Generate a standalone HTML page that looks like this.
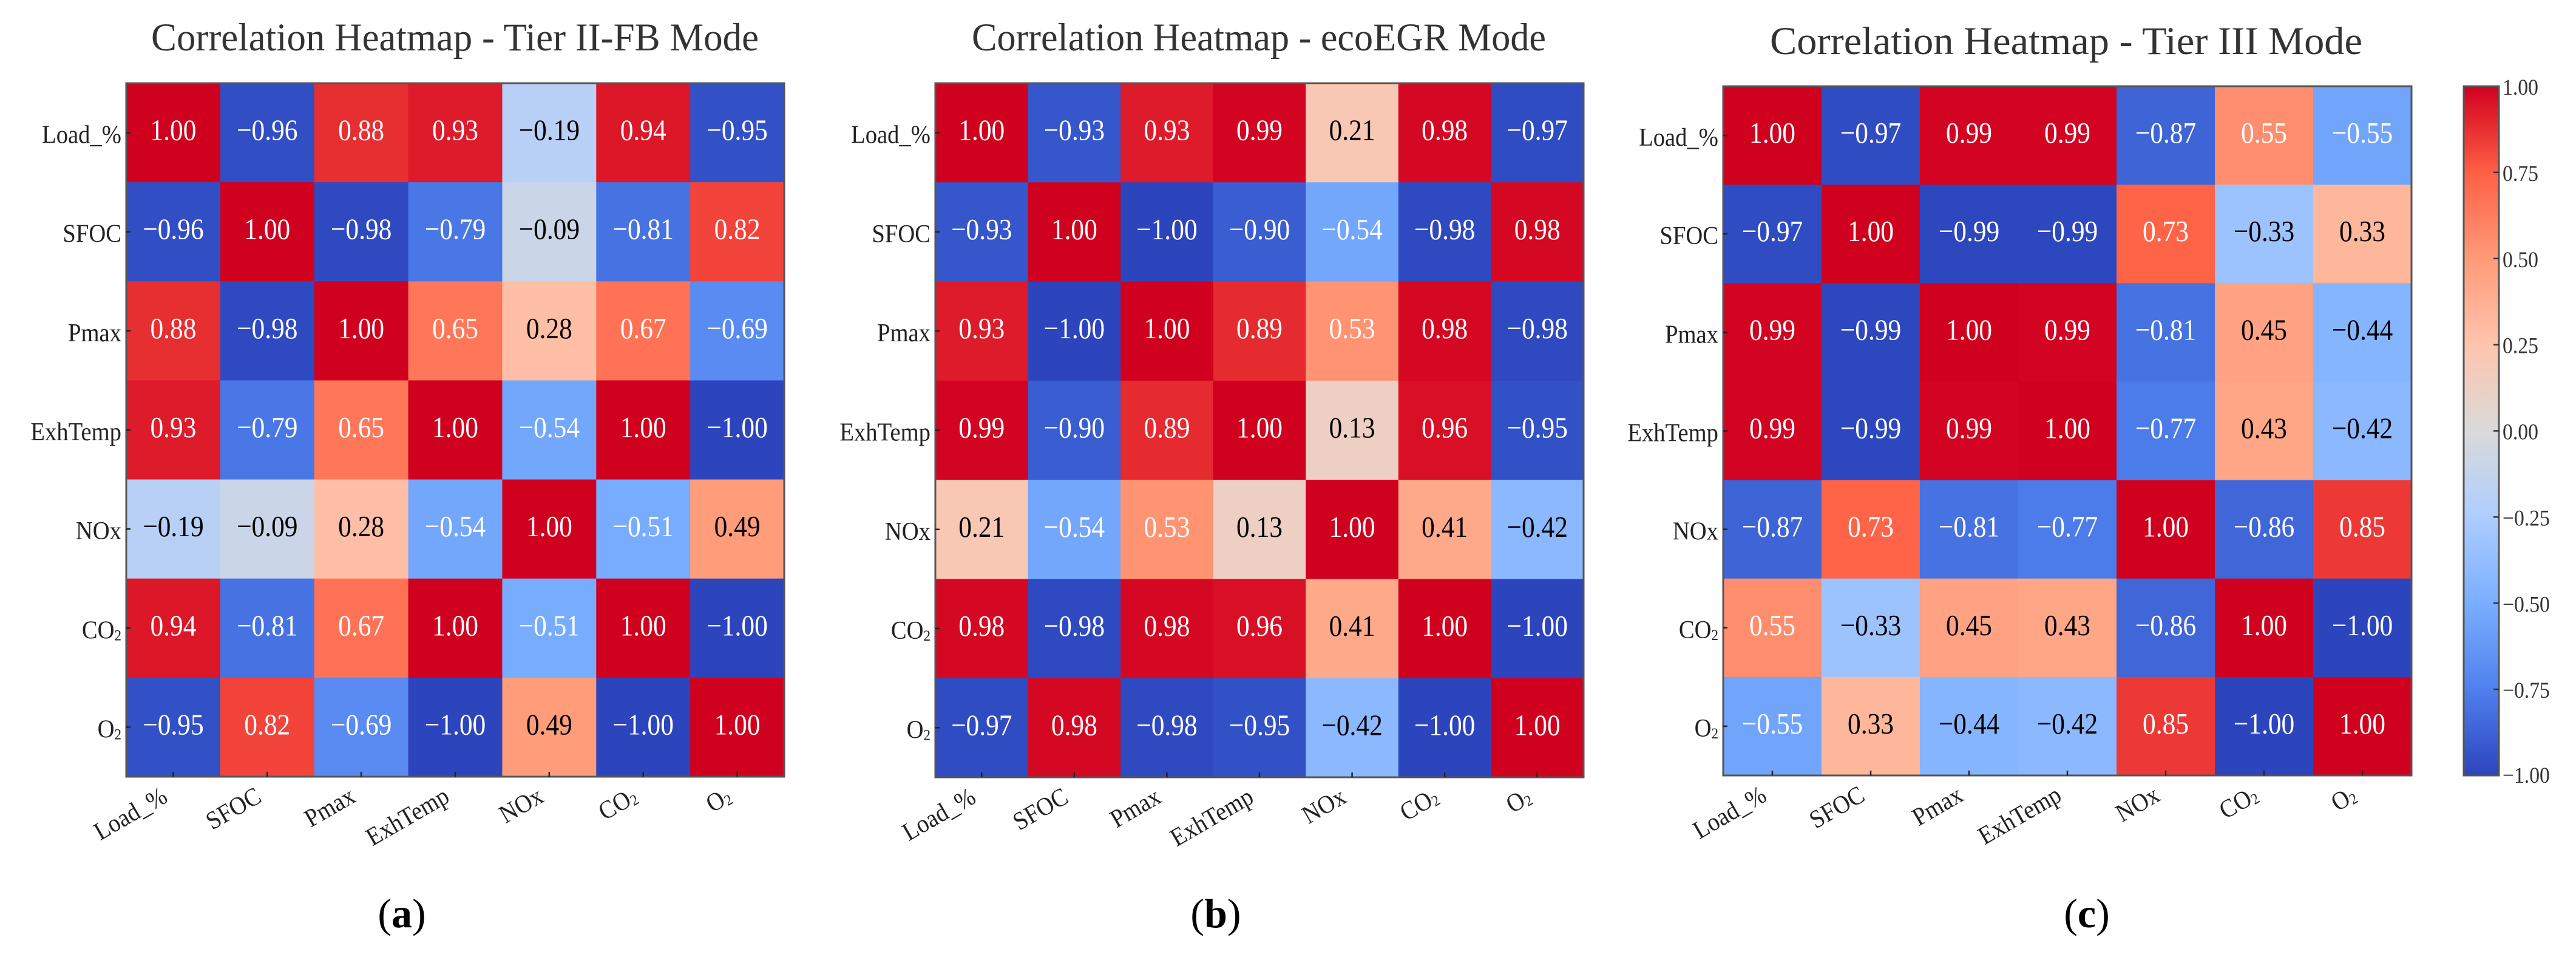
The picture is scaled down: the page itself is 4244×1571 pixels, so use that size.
<!DOCTYPE html>
<html lang="en">
<head>
<meta charset="utf-8">
<title>Correlation Heatmaps</title>
<style>
html,body{margin:0;padding:0;background:#fff;width:4244px;height:1571px;overflow:hidden}
svg{display:block}
text{font-family:"Liberation Serif","Noto Serif CJK SC",serif}
</style>
</head>
<body>
<svg id="figure" xmlns="http://www.w3.org/2000/svg" width="4244" height="1571" viewBox="0 0 4244 1571">
  <rect x="0" y="0" width="4244" height="1571" fill="#fff"/>
  <text x="249" y="83" font-size="65" fill="#333" textLength="1001" lengthAdjust="spacingAndGlyphs">Correlation Heatmap - Tier II-FB Mode</text>
  <text x="1601" y="83" font-size="65" fill="#333" textLength="946" lengthAdjust="spacingAndGlyphs">Correlation Heatmap - ecoEGR Mode</text>
  <text x="2916" y="89" font-size="65" fill="#333" textLength="976" lengthAdjust="spacingAndGlyphs">Correlation Heatmap - Tier III Mode</text>
  <text x="662" y="1527" font-size="68" fill="#000" text-anchor="middle">(<tspan font-weight="bold">a</tspan>)</text>
  <text x="2003" y="1527" font-size="68" fill="#000" text-anchor="middle">(<tspan font-weight="bold">b</tspan>)</text>
  <text x="3438" y="1527" font-size="68" fill="#000" text-anchor="middle">(<tspan font-weight="bold">c</tspan>)</text>
</svg>
<script>
// ---- chart data ----
const categories = ["Load_%", "SFOC", "Pmax", "ExhTemp", "NOx", "CO\u2082", "O\u2082"];

const tierIIValues = [
  [ 1.00, -0.96,  0.88,  0.93, -0.19,  0.94, -0.95],
  [-0.96,  1.00, -0.98, -0.79, -0.09, -0.81,  0.82],
  [ 0.88, -0.98,  1.00,  0.65,  0.28,  0.67, -0.69],
  [ 0.93, -0.79,  0.65,  1.00, -0.54,  1.00, -1.00],
  [-0.19, -0.09,  0.28, -0.54,  1.00, -0.51,  0.49],
  [ 0.94, -0.81,  0.67,  1.00, -0.51,  1.00, -1.00],
  [-0.95,  0.82, -0.69, -1.00,  0.49, -1.00,  1.00]
];

const ecoEgrValues = [
  [ 1.00, -0.93,  0.93,  0.99,  0.21,  0.98, -0.97],
  [-0.93,  1.00, -1.00, -0.90, -0.54, -0.98,  0.98],
  [ 0.93, -1.00,  1.00,  0.89,  0.53,  0.98, -0.98],
  [ 0.99, -0.90,  0.89,  1.00,  0.13,  0.96, -0.95],
  [ 0.21, -0.54,  0.53,  0.13,  1.00,  0.41, -0.42],
  [ 0.98, -0.98,  0.98,  0.96,  0.41,  1.00, -1.00],
  [-0.97,  0.98, -0.98, -0.95, -0.42, -1.00,  1.00]
];

const tierIIIValues = [
  [ 1.00, -0.97,  0.99,  0.99, -0.87,  0.55, -0.55],
  [-0.97,  1.00, -0.99, -0.99,  0.73, -0.33,  0.33],
  [ 0.99, -0.99,  1.00,  0.99, -0.81,  0.45, -0.44],
  [ 0.99, -0.99,  0.99,  1.00, -0.77,  0.43, -0.42],
  [-0.87,  0.73, -0.81, -0.77,  1.00, -0.86,  0.85],
  [ 0.55, -0.33,  0.45,  0.43, -0.86,  1.00, -1.00],
  [-0.55,  0.33, -0.44, -0.42,  0.85, -1.00,  1.00]
];

const colorbarTicks = [1.00, 0.75, 0.50, 0.25, 0.00, -0.25, -0.50, -0.75, -1.00];

// ---- colour scale ----
const colorDomain = [-1, -0.75, -0.5, -0.25, 0, 0.25, 0.5, 0.75, 1];
const colorRange = [
  [44, 69, 189], [79, 128, 238], [122, 174, 255], [174, 205, 255],
  [218, 218, 218], [255, 196, 173], [255, 154, 120], [255, 95, 69], [208, 0, 31]
];
function colorScale(v) {
  const t = Math.max(-1, Math.min(1, v));
  let i = 0;
  while (i < colorDomain.length - 2 && t > colorDomain[i + 1]) i++;
  const f = (t - colorDomain[i]) / (colorDomain[i + 1] - colorDomain[i]);
  const c = colorRange[i].map((a, k) => Math.round(a + (colorRange[i + 1][k] - a) * f));
  return "rgb(" + c.join(",") + ")";
}

const NS = "http://www.w3.org/2000/svg";
const svg = document.getElementById("figure");
function make(tag, attrs, parent, txt) {
  const el = document.createElementNS(NS, tag);
  for (const k in attrs) el.setAttribute(k, attrs[k]);
  if (txt !== undefined) el.textContent = txt;
  (parent || svg).appendChild(el);
  return el;
}
function fmt(v) { return v.toFixed(2).replace("-", "\u2212"); }
// Draw a trailing subscript two as a small lowered digit, close to the letter before it.
function setCategoryText(el, name) {
  if (name.endsWith("\u2082")) {
    el.textContent = name.slice(0, -1);
    make("tspan", { "font-size": 25, dy: 3 }, el, "2");
  } else {
    el.textContent = name;
  }
}

function drawHeatmap(key, matrix, left, top, right, bottom) {
  const n = categories.length;
  const xBand = i => left + (right - left) * i / n;
  const yBand = i => top + (bottom - top) * i / n;
  const g = make("g", {});
  
  

  matrix.forEach((row, r) => row.forEach((v, c) => {
    const rect = make("rect", {
      x: xBand(c), y: yBand(r),
      width: xBand(c + 1) - xBand(c) + (c < n - 1 ? 0.6 : 0),
      height: yBand(r + 1) - yBand(r) + (r < n - 1 ? 0.6 : 0),
      fill: colorScale(v)
    }, g);
    
    
    const cx = (xBand(c) + xBand(c + 1)) / 2;
    const cy = (yBand(r) + yBand(r + 1)) / 2;
    const label = make("text", {
      transform: "translate(" + cx + "," + (cy + 12) + ") scale(0.886,1)",
      "text-anchor": "middle", "font-size": 49,
      fill: Math.abs(v) >= 0.5 ? "#fff" : "#000"
    }, g, fmt(v));
    
    
  }));

  const frame = make("rect", {
    x: left, y: top, width: right - left, height: bottom - top,
    fill: "none", stroke: "#555", "stroke-width": 3
  }, g);
  
  

  categories.forEach((name, i) => {
    const cy = (yBand(i) + yBand(i + 1)) / 2;
    const cx = (xBand(i) + xBand(i + 1)) / 2;
    const yt = make("line", { x1: left, x2: left + 7, y1: cy, y2: cy, stroke: "#222", "stroke-width": 2.5 }, g);
    
    
    const xt = make("line", { x1: cx, x2: cx, y1: bottom, y2: bottom - 8, stroke: "#222", "stroke-width": 2.5 }, g);
    
    
    const yl = make("text", {
      transform: "translate(" + (left - 8) + "," + (cy + 17) + ") scale(0.92,1)",
      "text-anchor": "end", "font-size": 42, fill: "#222"
    }, g);
    setCategoryText(yl, name);
    
    
    const xl = make("text", {
      transform: "translate(" + (cx - 7) + "," + (bottom + 40) + ") rotate(-30) scale(0.92,1)",
      "text-anchor": "end", "font-size": 42, fill: "#222"
    }, g);
    setCategoryText(xl, name);
    
    
  });
}

drawHeatmap("tier-ii-fb", tierIIValues, 208, 137, 1292, 1279);
drawHeatmap("ecoegr", ecoEgrValues, 1541, 137, 2609, 1280);
drawHeatmap("tier-iii", tierIIIValues, 2839, 142, 3973, 1277);

// ---- colour bar ----
(function drawColorbar() {
  const left = 4059, right = 4117, top = 142, bottom = 1277;
  const yScale = v => top + (1 - v) / 2 * (bottom - top);
  const defs = make("defs", {});
  const grad = make("linearGradient", { id: "cbar-gradient", x1: 0, y1: 1, x2: 0, y2: 0 }, defs);
  colorDomain.forEach(v => {
    make("stop", { offset: (v + 1) / 2, "stop-color": colorScale(v) }, grad);
  });
  const g = make("g", {});
  
  
  const bar = make("rect", {
    x: left, y: top, width: right - left, height: bottom - top,
    fill: "url(#cbar-gradient)", stroke: "#555", "stroke-width": 3
  }, g);
  
  
  colorbarTicks.forEach(v => {
    const y = yScale(v);
    if (Math.abs(v) < 1) {
      const t = make("line", { x1: right - 9, x2: right, y1: y, y2: y, stroke: "#333", "stroke-width": 2.5 }, g);
      
      
    }
    const label = make("text", {
      transform: "translate(4123," + (y + (v === -1 ? 12 : 14)) + ") scale(0.91,1)",
      "font-size": 37, fill: "#333"
    }, g, fmt(v));
    
    
  });
})();
</script>
</body>
</html>
